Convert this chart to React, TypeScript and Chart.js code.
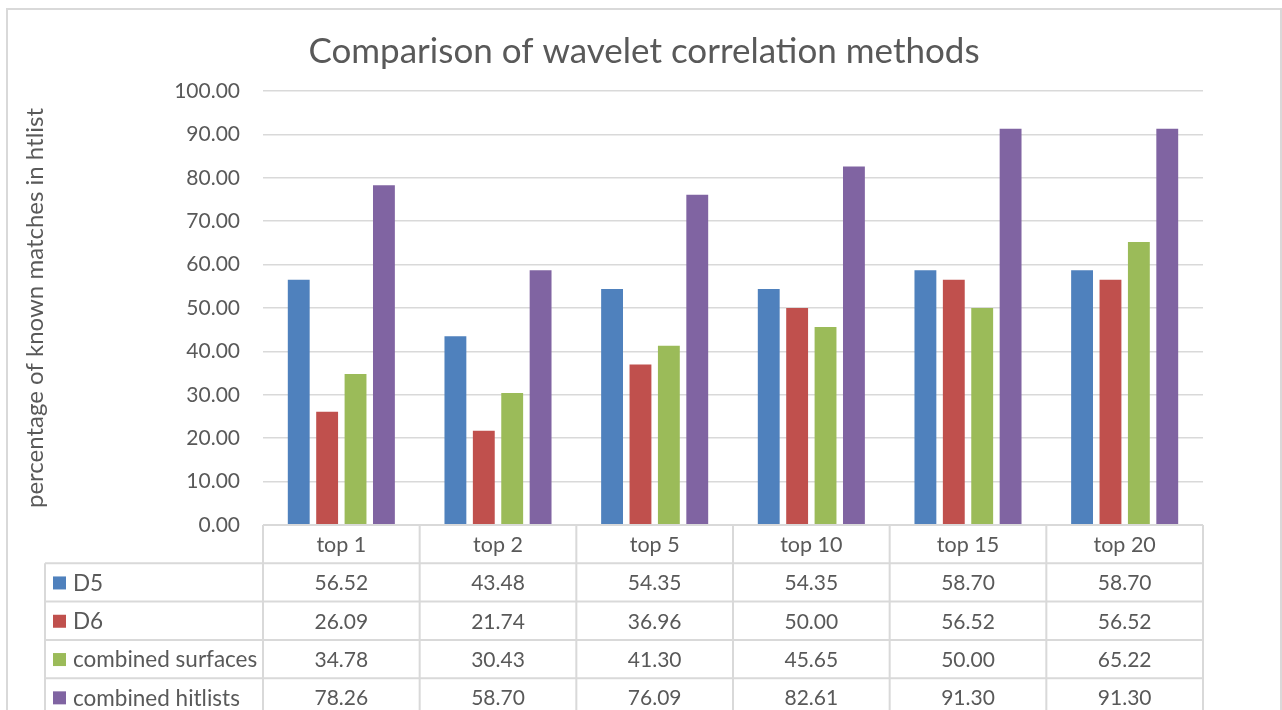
import React, { useEffect, useRef } from "react";
import { Chart, registerables } from "chart.js";

Chart.register(...registerables);

// Categories along the x axis (also the header row of the data table)
const categories = ["top 1", "top 2", "top 5", "top 10", "top 15", "top 20"];

// Series values (percent)
const d5 = [56.52, 43.48, 54.35, 54.35, 58.7, 58.7];
const d6 = [26.09, 21.74, 36.96, 50.0, 56.52, 56.52];
const combinedSurfaces = [34.78, 30.43, 41.3, 45.65, 50.0, 65.22];
const combinedHitlists = [78.26, 58.7, 76.09, 82.61, 91.3, 91.3];

const seriesNames = ["D5", "D6", "combined surfaces", "combined hitlists"];
const seriesColors = ["#4F81BD", "#C0504D", "#9BBB59", "#8064A2"];

// Value axis range
const yMin = 0;
const yMax = 100;
const yStep = 10;

const chartTitle = "Comparison of wavelet correlation methods";
const yAxisTitle = "percentage of known matches in htlist";

const FONT = "Lato, 'Open Sans', sans-serif";
const TEXT = "#595959";
const LINE = "#d9d9d9";

const allSeries = [d5, d6, combinedSurfaces, combinedHitlists];

// Draws the frame, title, rotated axis title and the data table under the plot
const decorPlugin = {
  id: "decor",
  afterDraw(chart: any) {
    const { ctx, chartArea, scales } = chart;
    const xs = scales.x;
    const left = chartArea.left;
    const right = chartArea.right;
    const top = chartArea.bottom;
    const colW = (right - left) / categories.length;
    const rowH = 38.3;
    const legendLeft = 45;
    const rows = seriesNames.length;

    ctx.save();

    // outer frame
    ctx.strokeStyle = LINE;
    ctx.lineWidth = 2;
    ctx.strokeRect(7, 9, 1274, 720);

    // title
    ctx.fillStyle = TEXT;
    ctx.font = `35px ${FONT}`;
    ctx.textAlign = "center";
    ctx.textBaseline = "alphabetic";
    ctx.fillText(chartTitle, 644, 63);

    // rotated value-axis title
    ctx.save();
    ctx.translate(43, 308);
    ctx.rotate(-Math.PI / 2);
    ctx.font = `24px ${FONT}`;
    ctx.textAlign = "center";
    ctx.textBaseline = "alphabetic";
    ctx.fillText(yAxisTitle, 0, 0);
    ctx.restore();

    // table grid
    ctx.strokeStyle = LINE;
    ctx.lineWidth = 2;
    ctx.beginPath();
    ctx.moveTo(left, top);
    ctx.lineTo(right, top);
    for (let r = 1; r <= rows + 1; r++) {
      const y = top + rowH * r;
      ctx.moveTo(legendLeft, y);
      ctx.lineTo(right, y);
    }
    const bottom = top + rowH * (rows + 1);
    for (let c = 0; c <= categories.length; c++) {
      const x = left + colW * c;
      ctx.moveTo(x, top);
      ctx.lineTo(x, bottom);
    }
    ctx.moveTo(legendLeft, top + rowH);
    ctx.lineTo(legendLeft, bottom);
    ctx.stroke();

    // header labels
    ctx.fillStyle = TEXT;
    ctx.font = `21.5px ${FONT}`;
    ctx.textAlign = "center";
    ctx.textBaseline = "middle";
    categories.forEach((c, i) => {
      ctx.fillText(c, xs.getPixelForValue(i), top + rowH / 2 + 1);
    });

    // series rows: legend key, name, values
    allSeries.forEach((vals, s) => {
      const cy = top + rowH * (s + 1) + rowH / 2 + 1;
      ctx.fillStyle = seriesColors[s];
      ctx.fillRect(53, cy - 7, 13, 13);
      ctx.fillStyle = TEXT;
      ctx.textAlign = "left";
      ctx.font = `22.5px ${FONT}`;
      ctx.fillText(seriesNames[s], 73, cy);
      ctx.textAlign = "center";
      ctx.font = `21px ${FONT}`;
      vals.forEach((v, i) => {
        ctx.fillText(v.toFixed(2), xs.getPixelForValue(i), cy);
      });
    });

    ctx.restore();
  },
};

export default function App() {
  const canvasRef = useRef<HTMLCanvasElement | null>(null);

  useEffect(() => {
    const canvas = canvasRef.current;
    if (!canvas) return;
    const chart = new Chart(canvas, {
      type: "bar",
      data: {
        labels: categories,
        datasets: allSeries.map((vals, i) => ({
          label: seriesNames[i],
          data: vals,
          backgroundColor: seriesColors[i],
          borderWidth: 0,
          categoryPercentage: 0.725,
          barPercentage: 0.77,
        })),
      },
      options: {
        responsive: false,
        animation: false,
        devicePixelRatio: 1,
        layout: { padding: { top: 91, right: 79, bottom: 185, left: 0 } },
        plugins: {
          legend: { display: false },
          title: { display: false },
          tooltip: { enabled: false },
        },
        scales: {
          x: {
            display: false,
          },
          y: {
            min: yMin,
            max: yMax,
            afterFit(scale: any) {
              scale.width = 263;
            },
            border: { display: false },
            grid: { color: LINE, lineWidth: 1.6, drawTicks: false },
            ticks: {
              stepSize: yStep,
              padding: 23,
              color: TEXT,
              font: { family: FONT, size: 21 },
              callback: (v: any) => Number(v).toFixed(2),
            },
          },
        },
      },
      plugins: [decorPlugin],
    });
    return () => chart.destroy();
  }, []);

  return (
    <div style={{ position: "fixed", left: 0, top: 0, width: 1282, height: 710, background: "#fff" }}>
      <canvas ref={canvasRef} width={1282} height={710} style={{ display: "block" }} />
    </div>
  );
}
